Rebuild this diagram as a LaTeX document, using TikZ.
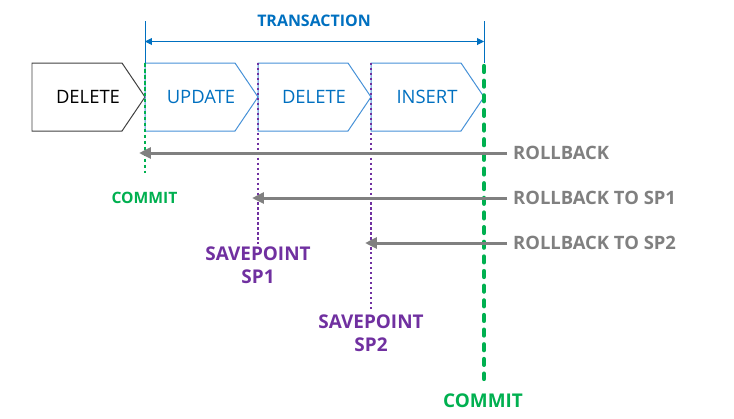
\documentclass[tikz,border=0pt]{standalone}
\usepackage{fontspec}
\setmainfont{Open Sans}
\usetikzlibrary{arrows.meta}
\definecolor{tblue}{RGB}{0,112,192}
\definecolor{cblue}{RGB}{70,145,215}
\definecolor{tgreen}{RGB}{0,176,80}
\definecolor{tpurple}{RGB}{112,48,160}
\definecolor{tgray}{RGB}{128,128,128}
\tikzset{
  chev/.style={line width=1pt},
  chevtext/.style={font=\fontsize{18.5}{20}\selectfont, inner sep=0pt},
  lbl/.style={font=\fontsize{18.5}{23}\selectfont\bfseries, inner sep=0pt, align=center},
  rb/.style={draw=tgray, line width=3pt, -{Triangle[length=12pt,width=11pt]}},
  sp/.style={draw=tpurple, line width=2pt, dash pattern=on 2.2pt off 2.8pt},
  cmthin/.style={draw=tgreen, line width=2.2pt, dash pattern=on 3.6pt off 2.4pt},
  cmthick/.style={draw=tgreen, line width=4.2pt, line cap=round, dash pattern=on 6pt off 8.7pt},
  brk/.style={draw=tblue, line width=1pt},
}
\begin{document}
\begin{tikzpicture}[x=1bp,y=-1bp]
\useasboundingbox (0,0) rectangle (734,418);
% chevrons
\draw[chev, draw=black!75] (32,63) -- (122,63) -- (145,97) -- (122,131) -- (32,131) -- cycle;
\draw[chev, draw=cblue] (145,63) -- (235,63) -- (258,97) -- (235,131) -- (145,131) -- cycle;
\draw[chev, draw=cblue] (258,63) -- (348,63) -- (371,97) -- (348,131) -- (258,131) -- cycle;
\draw[chev, draw=cblue] (371,63) -- (461,63) -- (484,97) -- (461,131) -- (371,131) -- cycle;
\node[chevtext, text=black] (d0) at (88,97) {DELETE};
\node[chevtext, text=tblue] (up) at (201,97) {UPDATE};
\node[chevtext, text=tblue] (d1) at (314,97) {DELETE};
\node[chevtext, text=tblue] (ins) at (427,97) {INSERT};
% transaction bracket
\coordinate (tl) at (145,21);
\coordinate (tr) at (484,21);
\coordinate (tlb) at (145,63);
\coordinate (trb) at (484,63);
\draw[brk] (tl) -- (tlb);
\draw[brk] (tr) -- (trb);
\draw[brk, {Triangle[length=7pt,width=7pt]}-{Triangle[length=7pt,width=7pt]}] (145,41.5) -- (484,41.5);
\node[lbl, text=tblue, font=\fontsize{16}{20}\selectfont\bfseries] (tx) at (314,20.5) {TRANSACTION};
% commit / savepoint lines
\coordinate (c1t) at (145,63);
\coordinate (c1b) at (145,173);
\coordinate (s1t) at (258,63);
\coordinate (s1b) at (258,244);
\coordinate (s2t) at (371,63);
\coordinate (s2b) at (371,311);
\coordinate (c2t) at (484,66);
\coordinate (c2b) at (484,379);
\draw[cmthin] (c1t) -- (c1b);
\draw[sp] (s1t) -- (s1b);
\draw[sp] (s2t) -- (s2b);
\draw[cmthick] (c2t) -- (c2b);
\node[lbl, text=tgreen, font=\fontsize{15.7}{18}\selectfont\bfseries] (cm1) at (144.5,197.5) {COMMIT};
\node[lbl, text=tgreen, font=\fontsize{19}{23}\selectfont\bfseries] (cm2) at (483,400.5) {COMMIT};
\node[lbl, text=tpurple, font=\fontsize{19}{23}\selectfont\bfseries] (sp1) at (258,265) {SAVEPOINT\\SP1};
\node[lbl, text=tpurple, font=\fontsize{19}{23}\selectfont\bfseries] (sp2) at (371,333.5) {SAVEPOINT\\SP2};
% rollbacks
\node[lbl, text=tgray, anchor=west] (r0) at (513,153) {ROLLBACK};
\node[lbl, text=tgray, anchor=west] (r1) at (513,198) {ROLLBACK TO SP1};
\node[lbl, text=tgray, anchor=west] (r2) at (513,243) {ROLLBACK TO SP2};
\draw[rb] ([xshift=-6bp]r0.west) -- ([xshift=-6bp]r0.west -| c1t);
\draw[rb] ([xshift=-6bp]r1.west) -- ([xshift=-6bp]r1.west -| s1t);
\draw[rb] ([xshift=-6bp]r2.west) -- ([xshift=-6bp]r2.west -| s2t);
\end{tikzpicture}
\end{document}
